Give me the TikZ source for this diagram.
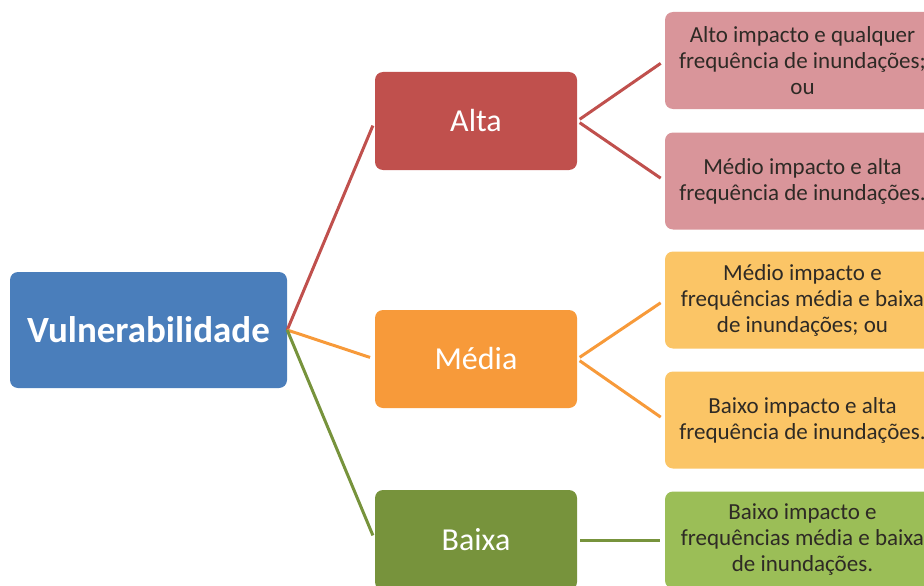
\documentclass[tikz,border=0pt]{standalone}
\usepackage{fontspec}
\setmainfont{Carlito}
\definecolor{cblue}{HTML}{4A7EBB}
\definecolor{cred}{HTML}{C0504D}
\definecolor{corange}{HTML}{F79A3A}
\definecolor{cgreen}{HTML}{77933C}
\definecolor{lred}{HTML}{D9959A}
\definecolor{lorange}{HTML}{FBC566}
\definecolor{lgreen}{HTML}{9BBE57}
\definecolor{dtext}{HTML}{2E2A25}
\tikzset{
  mainbox/.style={rounded corners=8pt, draw=none, fill=cblue, text=white,
    minimum width=277pt, minimum height=116pt, font=\fontsize{37}{42}\selectfont\bfseries},
  midbox/.style={rounded corners=8pt, draw=none, text=white,
    minimum width=202pt, minimum height=98pt, font=\fontsize{32}{36}\selectfont},
  leafbox/.style={rounded corners=8pt, draw=none, text=dtext, align=center,
    minimum width=275pt, minimum height=97pt, font=\fontsize{23}{26}\selectfont},
  link/.style={line width=3pt, shorten >=5pt},
  leaflink/.style={line width=3pt, shorten <=3pt, shorten >=5pt}
}
\begin{document}
\begin{tikzpicture}[x=1pt,y=-1pt]
\useasboundingbox (0,0) rectangle (924,586);
\clip (0,0) rectangle (924,586);
\node[mainbox] (v) at (148.5,330) {Vulnerabilidade};
\node[midbox, fill=cred] (alta) at (476,121) {Alta};
\node[midbox, fill=corange] (media) at (476,359) {Média};
\node[midbox, fill=cgreen, minimum height=100pt] (baixa) at (476,540) {Baixa};
\node[leafbox, fill=lred] (l1) at (802.5,60.5) {Alto impacto e qualquer\\frequência de inundações;\\ou};
\node[leafbox, fill=lred] (l2) at (802.5,181) {Médio impacto e alta\\frequência de inundações.};
\node[leafbox, fill=lorange] (l3) at (802.5,300) {Médio impacto e\\frequências média e baixa\\de inundações; ou};
\node[leafbox, fill=lorange] (l4) at (802.5,420) {Baixo impacto e alta\\frequência de inundações.};
\node[leafbox, fill=lgreen] (l5) at (802.5,540) {Baixo impacto e\\frequências média e baixa\\de inundações.};
\draw[link, cred] (v.east) -- (alta.west);
\draw[link, corange] (v.east) -- (media.west);
\draw[link, cgreen] (v.east) -- (baixa.west);
\draw[leaflink, cred] (alta.east) -- (l1.west);
\draw[leaflink, cred] (alta.east) -- (l2.west);
\draw[leaflink, corange] (media.east) -- (l3.west);
\draw[leaflink, corange] (media.east) -- (l4.west);
\draw[leaflink, cgreen] (baixa.east) -- (l5.west);
\end{tikzpicture}
\end{document}
